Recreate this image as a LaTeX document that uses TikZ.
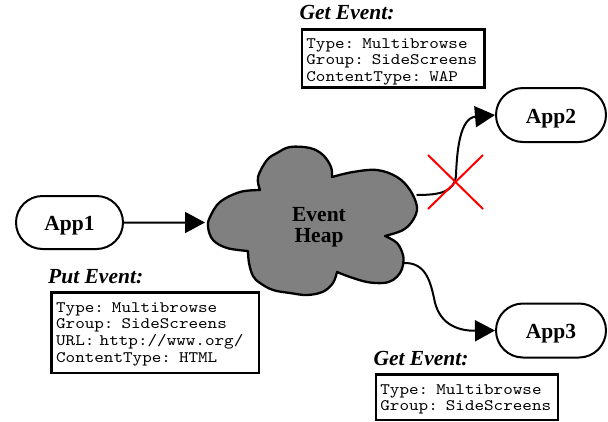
\documentclass[tikz,border=0pt]{standalone}
\usepackage{fontspec}
\setmainfont{Liberation Serif}
\newfontfamily\codefont{lmmono10-regular.otf}[FakeStretch=1.14]
\usetikzlibrary{arrows.meta,shapes.misc}

\tikzset{
  app/.style={draw, line width=2pt, rounded rectangle, inner sep=0pt,
    minimum width=110pt, minimum height=54pt, text height=16pt, text depth=0pt,
    font=\fontsize{21.5}{24}\selectfont\bfseries},
  evbox/.style={draw, line width=2.6pt, rectangle, anchor=north west,
    align=left, inner xsep=4.5pt, inner ysep=0pt, text height=10pt,
    font=\codefont\fontsize{16}{16.6}\selectfont},
  evlabel/.style={anchor=base west, inner sep=0pt,
    font=\fontsize{21.5}{24}\selectfont\bfseries\itshape},
  heap/.style={draw, fill=black!50, line width=2.3pt, line join=round},
  heaptext/.style={align=center, inner sep=0pt,
    font=\fontsize{21.5}{21}\selectfont\bfseries},
  link/.style={line width=2pt, -{Triangle[length=20pt,width=21pt]}},
  blocked/.style={draw=red, line width=2pt},
}

\begin{document}
\begin{tikzpicture}[x=1pt, y=-1pt]
\useasboundingbox (0,0) rectangle (608,421);
\fill[white] (0,0) rectangle (608,421);

% the event heap cloud, one smooth piece per lobe
\draw[heap]
  plot[smooth, tension=0.6] coordinates {(260,190) (258,177) (267,160) (277,153) (290,147) (310,148) (323,155) (331,167) (332,177)}
  -- plot[smooth, tension=0.6] coordinates {(332,177) (353,172) (377,170) (397,177) (410,190) (417,207) (413,220) (403,230) (385,236)}
  -- plot[smooth, tension=0.6] coordinates {(385,236) (397,243) (403,255) (403,265) (400,273) (393,280) (383,283) (367,282) (350,277) (337,272)}
  -- plot[smooth, tension=0.6] coordinates {(337,272) (333,283) (323,291.7) (307,295) (290,293) (273,290) (260,283) (253,276) (249,263) (248,251)}
  -- plot[smooth, tension=0.6] coordinates {(248,251) (227,248) (213,240) (208,227) (210,217) (220,202) (240,192) (260,190)}
  -- cycle;
\node[heaptext] (heaplabel) at (319,227.5) {Event\\Heap};

% attachment points on the cloud outline
\coordinate (heapW) at (208,222.5);
\coordinate (heapNE) at (416.5,195);
\coordinate (heapSE) at (403,263);

% applications
\node[app, minimum width=107pt, minimum height=53pt] (app1) at (69.5,222.5) {App1};
\node[app] (app2) at (551,115) {App2};
\node[app] (app3) at (551,330.5) {App3};

% event descriptions
\node[evlabel] (putlabel) at (48,283.5) {Put Event:};
\node[evbox, minimum width=207.4pt, minimum height=80.4pt, text width=198.4pt,
      text depth=51pt] (putbox) at (50.3,291.3)
  {Type: Multibrowse\\Group: SideScreens\\URL: http://www.org/\\ContentType: HTML};

\node[evlabel] (getlabelA) at (299.3,19) {Get Event:};
\node[evbox, minimum width=182.4pt, minimum height=58pt, text width=173.4pt,
      text depth=30.6pt] (getboxA) at (300.6,28)
  {Type: Multibrowse\\Group: SideScreens\\ContentType: WAP};

\node[evlabel] (getlabelB) at (373.3,365) {Get Event:};
\node[evbox, minimum width=182.1pt, minimum height=45.4pt, text width=173.1pt,
      text depth=16.6pt] (getboxB) at (374.6,373.3)
  {Type: Multibrowse\\Group: SideScreens};

% connectors
\draw[link, shorten >=3pt] (app1) -- (heapW);
\draw[link] (heapNE) .. controls (440,195) and (455,192) .. (456,175)
                     .. controls (457,150) and (460,118) .. (app2.west);
\draw[link] (heapSE) .. controls (425,262) and (430,280) .. (434,298)
                     .. controls (438,322) and (455,331) .. (app3.west);

% the delivery to App2 is blocked
\coordinate (xa) at (428,155);
\coordinate (xb) at (483,209);
\coordinate (xc) at (483,155);
\coordinate (xd) at (428,209);
\draw[blocked] (xa) -- (xb);
\draw[blocked] (xc) -- (xd);
\end{tikzpicture}
\end{document}
